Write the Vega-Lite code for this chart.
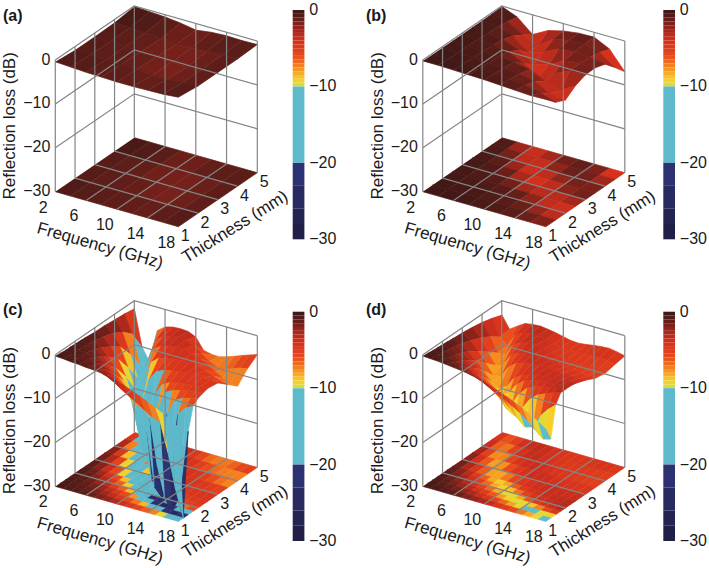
{"padding":0,"background":"white","autosize":{"type":"pad"},"config":{"view":{"stroke":null},"text":{"font":"Liberation Sans","color":"#1a1a1a"}},
"data":{"values":[
{"p":"a","f":2,"t":5,"r":-0.1},{"p":"a","f":4,"t":5,"r":-0.3},{"p":"a","f":6,"t":5,"r":-0.5},{"p":"a","f":8,"t":5,"r":-0.9},{"p":"a","f":10,"t":5,"r":-1.5},{"p":"a","f":12,"t":5,"r":-1},{"p":"a","f":14,"t":5,"r":-0.8},{"p":"a","f":16,"t":5,"r":-0.9},{"p":"a","f":18,"t":5,"r":-0.8},
{"p":"a","f":2,"t":4,"r":-0.7},{"p":"a","f":4,"t":4,"r":-0.9},{"p":"a","f":6,"t":4,"r":-1},{"p":"a","f":8,"t":4,"r":-1.4},{"p":"a","f":10,"t":4,"r":-1.7},{"p":"a","f":12,"t":4,"r":-1.5},{"p":"a","f":14,"t":4,"r":-1.3},{"p":"a","f":16,"t":4,"r":-1.1},{"p":"a","f":18,"t":4,"r":-1},
{"p":"a","f":2,"t":3,"r":-0.8},{"p":"a","f":4,"t":3,"r":-1},{"p":"a","f":6,"t":3,"r":-1.1},{"p":"a","f":8,"t":3,"r":-1.2},{"p":"a","f":10,"t":3,"r":-1.5},{"p":"a","f":12,"t":3,"r":-1.7},{"p":"a","f":14,"t":3,"r":-1.8},{"p":"a","f":16,"t":3,"r":-1.2},{"p":"a","f":18,"t":3,"r":-1},
{"p":"a","f":2,"t":2,"r":-0.8},{"p":"a","f":4,"t":2,"r":-0.9},{"p":"a","f":6,"t":2,"r":-1},{"p":"a","f":8,"t":2,"r":-1.1},{"p":"a","f":10,"t":2,"r":-1.2},{"p":"a","f":12,"t":2,"r":-1.6},{"p":"a","f":14,"t":2,"r":-1.4},{"p":"a","f":16,"t":2,"r":-1.2},{"p":"a","f":18,"t":2,"r":-1},
{"p":"a","f":2,"t":1,"r":-0.4},{"p":"a","f":4,"t":1,"r":-0.6},{"p":"a","f":6,"t":1,"r":-0.8},{"p":"a","f":8,"t":1,"r":-0.9},{"p":"a","f":10,"t":1,"r":-1},{"p":"a","f":12,"t":1,"r":-1},{"p":"a","f":14,"t":1,"r":-0.9},{"p":"a","f":16,"t":1,"r":-0.8},{"p":"a","f":18,"t":1,"r":-0.5},
{"p":"b","f":2,"t":5,"r":-0.1},{"p":"b","f":4,"t":5,"r":-1.5},{"p":"b","f":6,"t":5,"r":-4.5},{"p":"b","f":8,"t":5,"r":-2.6},{"p":"b","f":10,"t":5,"r":-1.7},{"p":"b","f":12,"t":5,"r":-1.2},{"p":"b","f":14,"t":5,"r":-1.1},{"p":"b","f":16,"t":5,"r":-2.8},{"p":"b","f":18,"t":5,"r":-7},
{"p":"b","f":2,"t":4.5,"r":-0.2},{"p":"b","f":4,"t":4.5,"r":-1},{"p":"b","f":6,"t":4.5,"r":-3},{"p":"b","f":8,"t":4.5,"r":-4.5},{"p":"b","f":10,"t":4.5,"r":-2},{"p":"b","f":12,"t":4.5,"r":-1.3},{"p":"b","f":14,"t":4.5,"r":-1.2},{"p":"b","f":16,"t":4.5,"r":-2},{"p":"b","f":18,"t":4.5,"r":-4.5},
{"p":"b","f":2,"t":4,"r":-0.3},{"p":"b","f":4,"t":4,"r":-0.7},{"p":"b","f":6,"t":4,"r":-1.7},{"p":"b","f":8,"t":4,"r":-4.5},{"p":"b","f":10,"t":4,"r":-3.4},{"p":"b","f":12,"t":4,"r":-1.7},{"p":"b","f":14,"t":4,"r":-1.4},{"p":"b","f":16,"t":4,"r":-1.6},{"p":"b","f":18,"t":4,"r":-2.2},
{"p":"b","f":2,"t":3.5,"r":-0.3},{"p":"b","f":4,"t":3.5,"r":-0.6},{"p":"b","f":6,"t":3.5,"r":-1},{"p":"b","f":8,"t":3.5,"r":-2.4},{"p":"b","f":10,"t":3.5,"r":-4.6},{"p":"b","f":12,"t":3.5,"r":-3.8},{"p":"b","f":14,"t":3.5,"r":-1.8},{"p":"b","f":16,"t":3.5,"r":-1.5},{"p":"b","f":18,"t":3.5,"r":-1.5},
{"p":"b","f":2,"t":3,"r":-0.3},{"p":"b","f":4,"t":3,"r":-0.5},{"p":"b","f":6,"t":3,"r":-0.8},{"p":"b","f":8,"t":3,"r":-1.3},{"p":"b","f":10,"t":3,"r":-3},{"p":"b","f":12,"t":3,"r":-4.8},{"p":"b","f":14,"t":3,"r":-3.2},{"p":"b","f":16,"t":3,"r":-1.7},{"p":"b","f":18,"t":3,"r":-1.6},
{"p":"b","f":2,"t":2.5,"r":-0.3},{"p":"b","f":4,"t":2.5,"r":-0.5},{"p":"b","f":6,"t":2.5,"r":-0.6},{"p":"b","f":8,"t":2.5,"r":-0.8},{"p":"b","f":10,"t":2.5,"r":-1.1},{"p":"b","f":12,"t":2.5,"r":-1.8},{"p":"b","f":14,"t":2.5,"r":-3.4},{"p":"b","f":16,"t":2.5,"r":-4.6},{"p":"b","f":18,"t":2.5,"r":-2.5},
{"p":"b","f":2,"t":2,"r":-0.3},{"p":"b","f":4,"t":2,"r":-0.4},{"p":"b","f":6,"t":2,"r":-0.5},{"p":"b","f":8,"t":2,"r":-0.7},{"p":"b","f":10,"t":2,"r":-0.9},{"p":"b","f":12,"t":2,"r":-1.2},{"p":"b","f":14,"t":2,"r":-2},{"p":"b","f":16,"t":2,"r":-3.8},{"p":"b","f":18,"t":2,"r":-4.2},
{"p":"b","f":2,"t":1.5,"r":-0.3},{"p":"b","f":4,"t":1.5,"r":-0.3},{"p":"b","f":6,"t":1.5,"r":-0.4},{"p":"b","f":8,"t":1.5,"r":-0.5},{"p":"b","f":10,"t":1.5,"r":-0.7},{"p":"b","f":12,"t":1.5,"r":-0.9},{"p":"b","f":14,"t":1.5,"r":-1.3},{"p":"b","f":16,"t":1.5,"r":-2},{"p":"b","f":18,"t":1.5,"r":-3.2},
{"p":"b","f":2,"t":1,"r":-0.2},{"p":"b","f":4,"t":1,"r":-0.2},{"p":"b","f":6,"t":1,"r":-0.3},{"p":"b","f":8,"t":1,"r":-0.4},{"p":"b","f":10,"t":1,"r":-0.5},{"p":"b","f":12,"t":1,"r":-0.7},{"p":"b","f":14,"t":1,"r":-0.9},{"p":"b","f":16,"t":1,"r":-1.1},{"p":"b","f":18,"t":1,"r":-1},
{"p":"c","f":2,"t":5,"r":-1.75},{"p":"c","f":3,"t":5,"r":-10},{"p":"c","f":4,"t":5,"r":-13},{"p":"c","f":5,"t":5,"r":-5.3},{"p":"c","f":6,"t":5,"r":-4},{"p":"c","f":7,"t":5,"r":-3.5},{"p":"c","f":8,"t":5,"r":-3.4},{"p":"c","f":9,"t":5,"r":-3.5},{"p":"c","f":10,"t":5,"r":-4.3},{"p":"c","f":11,"t":5,"r":-6.8},{"p":"c","f":12,"t":5,"r":-7.2},{"p":"c","f":13,"t":5,"r":-7.3},{"p":"c","f":14,"t":5,"r":-6.8},{"p":"c","f":15,"t":5,"r":-6.2},{"p":"c","f":16,"t":5,"r":-5.5},{"p":"c","f":17,"t":5,"r":-4.9},{"p":"c","f":18,"t":5,"r":-4.3},
{"p":"c","f":2,"t":4.5,"r":-1.4},{"p":"c","f":3,"t":4.5,"r":-5.5},{"p":"c","f":4,"t":4.5,"r":-12},{"p":"c","f":5,"t":4.5,"r":-12},{"p":"c","f":6,"t":4.5,"r":-5.5},{"p":"c","f":7,"t":4.5,"r":-4.2},{"p":"c","f":8,"t":4.5,"r":-3.6},{"p":"c","f":9,"t":4.5,"r":-3.2},{"p":"c","f":10,"t":4.5,"r":-3.4},{"p":"c","f":11,"t":4.5,"r":-4.2},{"p":"c","f":12,"t":4.5,"r":-5.5},{"p":"c","f":13,"t":4.5,"r":-6.8},{"p":"c","f":14,"t":4.5,"r":-7.6},{"p":"c","f":15,"t":4.5,"r":-7.6},{"p":"c","f":16,"t":4.5,"r":-7},{"p":"c","f":17,"t":4.5,"r":-6.3},{"p":"c","f":18,"t":4.5,"r":-6},
{"p":"c","f":2,"t":4,"r":-1.2},{"p":"c","f":3,"t":4,"r":-3.5},{"p":"c","f":4,"t":4,"r":-8},{"p":"c","f":5,"t":4,"r":-13},{"p":"c","f":6,"t":4,"r":-10},{"p":"c","f":7,"t":4,"r":-5.5},{"p":"c","f":8,"t":4,"r":-4.3},{"p":"c","f":9,"t":4,"r":-3.8},{"p":"c","f":10,"t":4,"r":-3.5},{"p":"c","f":11,"t":4,"r":-3.5},{"p":"c","f":12,"t":4,"r":-4},{"p":"c","f":13,"t":4,"r":-4.6},{"p":"c","f":14,"t":4,"r":-5.4},{"p":"c","f":15,"t":4,"r":-6.5},{"p":"c","f":16,"t":4,"r":-7.5},{"p":"c","f":17,"t":4,"r":-8.3},{"p":"c","f":18,"t":4,"r":-8.4},
{"p":"c","f":2,"t":3.5,"r":-1},{"p":"c","f":3,"t":3.5,"r":-2.3},{"p":"c","f":4,"t":3.5,"r":-4.8},{"p":"c","f":5,"t":3.5,"r":-9},{"p":"c","f":6,"t":3.5,"r":-13.5},{"p":"c","f":7,"t":3.5,"r":-12},{"p":"c","f":8,"t":3.5,"r":-6.5},{"p":"c","f":9,"t":3.5,"r":-5},{"p":"c","f":10,"t":3.5,"r":-4.5},{"p":"c","f":11,"t":3.5,"r":-4.2},{"p":"c","f":12,"t":3.5,"r":-4},{"p":"c","f":13,"t":3.5,"r":-4},{"p":"c","f":14,"t":3.5,"r":-4.3},{"p":"c","f":15,"t":3.5,"r":-4.8},{"p":"c","f":16,"t":3.5,"r":-5.5},{"p":"c","f":17,"t":3.5,"r":-6.2},{"p":"c","f":18,"t":3.5,"r":-6.5},
{"p":"c","f":2,"t":3,"r":-0.9},{"p":"c","f":3,"t":3,"r":-1.6},{"p":"c","f":4,"t":3,"r":-3.3},{"p":"c","f":5,"t":3,"r":-5.6},{"p":"c","f":6,"t":3,"r":-9},{"p":"c","f":7,"t":3,"r":-14},{"p":"c","f":8,"t":3,"r":-15},{"p":"c","f":9,"t":3,"r":-8.5},{"p":"c","f":10,"t":3,"r":-6},{"p":"c","f":11,"t":3,"r":-5.2},{"p":"c","f":12,"t":3,"r":-4.8},{"p":"c","f":13,"t":3,"r":-4.5},{"p":"c","f":14,"t":3,"r":-4.3},{"p":"c","f":15,"t":3,"r":-4.3},{"p":"c","f":16,"t":3,"r":-4.4},{"p":"c","f":17,"t":3,"r":-4.5},{"p":"c","f":18,"t":3,"r":-4.6},
{"p":"c","f":2,"t":2.5,"r":-0.7},{"p":"c","f":3,"t":2.5,"r":-1.1},{"p":"c","f":4,"t":2.5,"r":-2},{"p":"c","f":5,"t":2.5,"r":-3.6},{"p":"c","f":6,"t":2.5,"r":-5.6},{"p":"c","f":7,"t":2.5,"r":-8},{"p":"c","f":8,"t":2.5,"r":-11.5},{"p":"c","f":9,"t":2.5,"r":-19},{"p":"c","f":10,"t":2.5,"r":-20},{"p":"c","f":11,"t":2.5,"r":-9.5},{"p":"c","f":12,"t":2.5,"r":-6.5},{"p":"c","f":13,"t":2.5,"r":-5.5},{"p":"c","f":14,"t":2.5,"r":-5},{"p":"c","f":15,"t":2.5,"r":-4.8},{"p":"c","f":16,"t":2.5,"r":-4.6},{"p":"c","f":17,"t":2.5,"r":-4.4},{"p":"c","f":18,"t":2.5,"r":-4.3},
{"p":"c","f":2,"t":2.25,"r":-0.6},{"p":"c","f":3,"t":2.25,"r":-1},{"p":"c","f":4,"t":2.25,"r":-1.6},{"p":"c","f":5,"t":2.25,"r":-2.8},{"p":"c","f":6,"t":2.25,"r":-4.4},{"p":"c","f":7,"t":2.25,"r":-6.3},{"p":"c","f":8,"t":2.25,"r":-8.5},{"p":"c","f":9,"t":2.25,"r":-12},{"p":"c","f":10,"t":2.25,"r":-21},{"p":"c","f":11,"t":2.25,"r":-23},{"p":"c","f":12,"t":2.25,"r":-12},{"p":"c","f":13,"t":2.25,"r":-7},{"p":"c","f":14,"t":2.25,"r":-6},{"p":"c","f":15,"t":2.25,"r":-5.5},{"p":"c","f":16,"t":2.25,"r":-5},{"p":"c","f":17,"t":2.25,"r":-4.8},{"p":"c","f":18,"t":2.25,"r":-4.6},
{"p":"c","f":2,"t":2,"r":-0.6},{"p":"c","f":3,"t":2,"r":-0.9},{"p":"c","f":4,"t":2,"r":-1.2},{"p":"c","f":5,"t":2,"r":-2},{"p":"c","f":6,"t":2,"r":-3.3},{"p":"c","f":7,"t":2,"r":-4.8},{"p":"c","f":8,"t":2,"r":-6.5},{"p":"c","f":9,"t":2,"r":-8.5},{"p":"c","f":10,"t":2,"r":-11.5},{"p":"c","f":11,"t":2,"r":-18},{"p":"c","f":12,"t":2,"r":-27},{"p":"c","f":13,"t":2,"r":-25},{"p":"c","f":14,"t":2,"r":-10.5},{"p":"c","f":15,"t":2,"r":-7},{"p":"c","f":16,"t":2,"r":-6},{"p":"c","f":17,"t":2,"r":-5.5},{"p":"c","f":18,"t":2,"r":-5},
{"p":"c","f":2,"t":1.75,"r":-0.5},{"p":"c","f":3,"t":1.75,"r":-0.8},{"p":"c","f":4,"t":1.75,"r":-1},{"p":"c","f":5,"t":1.75,"r":-1.5},{"p":"c","f":6,"t":1.75,"r":-2.3},{"p":"c","f":7,"t":1.75,"r":-3.4},{"p":"c","f":8,"t":1.75,"r":-4.8},{"p":"c","f":9,"t":1.75,"r":-6.3},{"p":"c","f":10,"t":1.75,"r":-8},{"p":"c","f":11,"t":1.75,"r":-10},{"p":"c","f":12,"t":1.75,"r":-15},{"p":"c","f":13,"t":1.75,"r":-27},{"p":"c","f":14,"t":1.75,"r":-29},{"p":"c","f":15,"t":1.75,"r":-24},{"p":"c","f":16,"t":1.75,"r":-9},{"p":"c","f":17,"t":1.75,"r":-7},{"p":"c","f":18,"t":1.75,"r":-6},
{"p":"c","f":2,"t":1.5,"r":-0.5},{"p":"c","f":3,"t":1.5,"r":-0.8},{"p":"c","f":4,"t":1.5,"r":-0.9},{"p":"c","f":5,"t":1.5,"r":-1.1},{"p":"c","f":6,"t":1.5,"r":-1.6},{"p":"c","f":7,"t":1.5,"r":-2.3},{"p":"c","f":8,"t":1.5,"r":-3.3},{"p":"c","f":9,"t":1.5,"r":-4.4},{"p":"c","f":10,"t":1.5,"r":-5.6},{"p":"c","f":11,"t":1.5,"r":-7},{"p":"c","f":12,"t":1.5,"r":-8.5},{"p":"c","f":13,"t":1.5,"r":-10.5},{"p":"c","f":14,"t":1.5,"r":-21},{"p":"c","f":15,"t":1.5,"r":-28},{"p":"c","f":16,"t":1.5,"r":-30},{"p":"c","f":17,"t":1.5,"r":-26},{"p":"c","f":18,"t":1.5,"r":-11},
{"p":"c","f":2,"t":1.25,"r":-0.4},{"p":"c","f":3,"t":1.25,"r":-0.6},{"p":"c","f":4,"t":1.25,"r":-0.8},{"p":"c","f":5,"t":1.25,"r":-1},{"p":"c","f":6,"t":1.25,"r":-1.4},{"p":"c","f":7,"t":1.25,"r":-1.9},{"p":"c","f":8,"t":1.25,"r":-2.6},{"p":"c","f":9,"t":1.25,"r":-3.5},{"p":"c","f":10,"t":1.25,"r":-4.7},{"p":"c","f":11,"t":1.25,"r":-5.8},{"p":"c","f":12,"t":1.25,"r":-6.8},{"p":"c","f":13,"t":1.25,"r":-8},{"p":"c","f":14,"t":1.25,"r":-9},{"p":"c","f":15,"t":1.25,"r":-9.6},{"p":"c","f":16,"t":1.25,"r":-16},{"p":"c","f":17,"t":1.25,"r":-24},{"p":"c","f":18,"t":1.25,"r":-30},
{"p":"c","f":2,"t":1,"r":-0.3},{"p":"c","f":3,"t":1,"r":-0.4},{"p":"c","f":4,"t":1,"r":-0.6},{"p":"c","f":5,"t":1,"r":-0.7},{"p":"c","f":6,"t":1,"r":-0.9},{"p":"c","f":7,"t":1,"r":-1},{"p":"c","f":8,"t":1,"r":-1.2},{"p":"c","f":9,"t":1,"r":-1.6},{"p":"c","f":10,"t":1,"r":-2},{"p":"c","f":11,"t":1,"r":-2.6},{"p":"c","f":12,"t":1,"r":-3.3},{"p":"c","f":13,"t":1,"r":-4},{"p":"c","f":14,"t":1,"r":-4.8},{"p":"c","f":15,"t":1,"r":-5.6},{"p":"c","f":16,"t":1,"r":-6.5},{"p":"c","f":17,"t":1,"r":-7.5},{"p":"c","f":18,"t":1,"r":-8.5},
{"p":"d","f":2,"t":5,"r":-3.2},{"p":"d","f":3,"t":5,"r":-6},{"p":"d","f":4,"t":5,"r":-4.8},{"p":"d","f":5,"t":5,"r":-3.7},{"p":"d","f":6,"t":5,"r":-3.4},{"p":"d","f":7,"t":5,"r":-3.3},{"p":"d","f":8,"t":5,"r":-3.5},{"p":"d","f":9,"t":5,"r":-3.8},{"p":"d","f":10,"t":5,"r":-4.2},{"p":"d","f":11,"t":5,"r":-4.6},{"p":"d","f":12,"t":5,"r":-4.7},{"p":"d","f":13,"t":5,"r":-4.5},{"p":"d","f":14,"t":5,"r":-4.2},{"p":"d","f":15,"t":5,"r":-4},{"p":"d","f":16,"t":5,"r":-3.9},{"p":"d","f":17,"t":5,"r":-4.2},{"p":"d","f":18,"t":5,"r":-4.6},
{"p":"d","f":2,"t":4.5,"r":-2.4},{"p":"d","f":3,"t":4.5,"r":-6.2},{"p":"d","f":4,"t":4.5,"r":-7.6},{"p":"d","f":5,"t":4.5,"r":-4.8},{"p":"d","f":6,"t":4.5,"r":-3.8},{"p":"d","f":7,"t":4.5,"r":-3.4},{"p":"d","f":8,"t":4.5,"r":-3.4},{"p":"d","f":9,"t":4.5,"r":-3.8},{"p":"d","f":10,"t":4.5,"r":-4.3},{"p":"d","f":11,"t":4.5,"r":-4.7},{"p":"d","f":12,"t":4.5,"r":-4.8},{"p":"d","f":13,"t":4.5,"r":-4.7},{"p":"d","f":14,"t":4.5,"r":-4.6},{"p":"d","f":15,"t":4.5,"r":-4.5},{"p":"d","f":16,"t":4.5,"r":-4.4},{"p":"d","f":17,"t":4.5,"r":-4.6},{"p":"d","f":18,"t":4.5,"r":-5},
{"p":"d","f":2,"t":4,"r":-1.8},{"p":"d","f":3,"t":4,"r":-4.6},{"p":"d","f":4,"t":4,"r":-7.8},{"p":"d","f":5,"t":4,"r":-7.8},{"p":"d","f":6,"t":4,"r":-5},{"p":"d","f":7,"t":4,"r":-4},{"p":"d","f":8,"t":4,"r":-3.5},{"p":"d","f":9,"t":4,"r":-3.5},{"p":"d","f":10,"t":4,"r":-3.8},{"p":"d","f":11,"t":4,"r":-4.3},{"p":"d","f":12,"t":4,"r":-4.6},{"p":"d","f":13,"t":4,"r":-4.9},{"p":"d","f":14,"t":4,"r":-5},{"p":"d","f":15,"t":4,"r":-5.1},{"p":"d","f":16,"t":4,"r":-5.2},{"p":"d","f":17,"t":4,"r":-5.4},{"p":"d","f":18,"t":4,"r":-5.5},
{"p":"d","f":2,"t":3.5,"r":-1.4},{"p":"d","f":3,"t":3.5,"r":-3.4},{"p":"d","f":4,"t":3.5,"r":-6},{"p":"d","f":5,"t":3.5,"r":-8.6},{"p":"d","f":6,"t":3.5,"r":-8},{"p":"d","f":7,"t":3.5,"r":-5.4},{"p":"d","f":8,"t":3.5,"r":-4.3},{"p":"d","f":9,"t":3.5,"r":-3.8},{"p":"d","f":10,"t":3.5,"r":-3.6},{"p":"d","f":11,"t":3.5,"r":-3.7},{"p":"d","f":12,"t":3.5,"r":-3.9},{"p":"d","f":13,"t":3.5,"r":-4.2},{"p":"d","f":14,"t":3.5,"r":-4.5},{"p":"d","f":15,"t":3.5,"r":-4.7},{"p":"d","f":16,"t":3.5,"r":-5},{"p":"d","f":17,"t":3.5,"r":-5.1},{"p":"d","f":18,"t":3.5,"r":-5.1},
{"p":"d","f":2,"t":3,"r":-1.1},{"p":"d","f":3,"t":3,"r":-2.4},{"p":"d","f":4,"t":3,"r":-4.3},{"p":"d","f":5,"t":3,"r":-6.5},{"p":"d","f":6,"t":3,"r":-8.8},{"p":"d","f":7,"t":3,"r":-8.6},{"p":"d","f":8,"t":3,"r":-6},{"p":"d","f":9,"t":3,"r":-4.6},{"p":"d","f":10,"t":3,"r":-4},{"p":"d","f":11,"t":3,"r":-3.7},{"p":"d","f":12,"t":3,"r":-3.6},{"p":"d","f":13,"t":3,"r":-3.6},{"p":"d","f":14,"t":3,"r":-3.7},{"p":"d","f":15,"t":3,"r":-3.8},{"p":"d","f":16,"t":3,"r":-4},{"p":"d","f":17,"t":3,"r":-4.2},{"p":"d","f":18,"t":3,"r":-4},
{"p":"d","f":2,"t":2.5,"r":-0.9},{"p":"d","f":3,"t":2.5,"r":-1.7},{"p":"d","f":4,"t":2.5,"r":-2.9},{"p":"d","f":5,"t":2.5,"r":-4.4},{"p":"d","f":6,"t":2.5,"r":-6.2},{"p":"d","f":7,"t":2.5,"r":-8.2},{"p":"d","f":8,"t":2.5,"r":-9.4},{"p":"d","f":9,"t":2.5,"r":-8.4},{"p":"d","f":10,"t":2.5,"r":-6},{"p":"d","f":11,"t":2.5,"r":-4.8},{"p":"d","f":12,"t":2.5,"r":-4.2},{"p":"d","f":13,"t":2.5,"r":-3.8},{"p":"d","f":14,"t":2.5,"r":-3.6},{"p":"d","f":15,"t":2.5,"r":-3.5},{"p":"d","f":16,"t":2.5,"r":-3.4},{"p":"d","f":17,"t":2.5,"r":-3.3},{"p":"d","f":18,"t":2.5,"r":-3.2},
{"p":"d","f":2,"t":2.25,"r":-0.8},{"p":"d","f":3,"t":2.25,"r":-1.4},{"p":"d","f":4,"t":2.25,"r":-2.3},{"p":"d","f":5,"t":2.25,"r":-3.6},{"p":"d","f":6,"t":2.25,"r":-5},{"p":"d","f":7,"t":2.25,"r":-6.6},{"p":"d","f":8,"t":2.25,"r":-8.3},{"p":"d","f":9,"t":2.25,"r":-9.5},{"p":"d","f":10,"t":2.25,"r":-8.5},{"p":"d","f":11,"t":2.25,"r":-6.2},{"p":"d","f":12,"t":2.25,"r":-4.8},{"p":"d","f":13,"t":2.25,"r":-4.2},{"p":"d","f":14,"t":2.25,"r":-3.9},{"p":"d","f":15,"t":2.25,"r":-3.6},{"p":"d","f":16,"t":2.25,"r":-3.4},{"p":"d","f":17,"t":2.25,"r":-3.2},{"p":"d","f":18,"t":2.25,"r":-3},
{"p":"d","f":2,"t":2,"r":-0.7},{"p":"d","f":3,"t":2,"r":-1.2},{"p":"d","f":4,"t":2,"r":-1.9},{"p":"d","f":5,"t":2,"r":-2.9},{"p":"d","f":6,"t":2,"r":-4.1},{"p":"d","f":7,"t":2,"r":-5.4},{"p":"d","f":8,"t":2,"r":-6.8},{"p":"d","f":9,"t":2,"r":-8.4},{"p":"d","f":10,"t":2,"r":-10},{"p":"d","f":11,"t":2,"r":-9.8},{"p":"d","f":12,"t":2,"r":-7},{"p":"d","f":13,"t":2,"r":-5.2},{"p":"d","f":14,"t":2,"r":-4.4},{"p":"d","f":15,"t":2,"r":-3.9},{"p":"d","f":16,"t":2,"r":-3.6},{"p":"d","f":17,"t":2,"r":-3.2},{"p":"d","f":18,"t":2,"r":-3},
{"p":"d","f":2,"t":1.75,"r":-0.6},{"p":"d","f":3,"t":1.75,"r":-1},{"p":"d","f":4,"t":1.75,"r":-1.5},{"p":"d","f":5,"t":1.75,"r":-2.2},{"p":"d","f":6,"t":1.75,"r":-3.2},{"p":"d","f":7,"t":1.75,"r":-4.2},{"p":"d","f":8,"t":1.75,"r":-5.3},{"p":"d","f":9,"t":1.75,"r":-6.6},{"p":"d","f":10,"t":1.75,"r":-8},{"p":"d","f":11,"t":1.75,"r":-10.2},{"p":"d","f":12,"t":1.75,"r":-11.2},{"p":"d","f":13,"t":1.75,"r":-9},{"p":"d","f":14,"t":1.75,"r":-6.5},{"p":"d","f":15,"t":1.75,"r":-5},{"p":"d","f":16,"t":1.75,"r":-4.2},{"p":"d","f":17,"t":1.75,"r":-3.5},{"p":"d","f":18,"t":1.75,"r":-3},
{"p":"d","f":2,"t":1.5,"r":-0.5},{"p":"d","f":3,"t":1.5,"r":-0.8},{"p":"d","f":4,"t":1.5,"r":-1.2},{"p":"d","f":5,"t":1.5,"r":-1.6},{"p":"d","f":6,"t":1.5,"r":-2.2},{"p":"d","f":7,"t":1.5,"r":-3},{"p":"d","f":8,"t":1.5,"r":-3.9},{"p":"d","f":9,"t":1.5,"r":-5},{"p":"d","f":10,"t":1.5,"r":-6},{"p":"d","f":11,"t":1.5,"r":-7.2},{"p":"d","f":12,"t":1.5,"r":-8.6},{"p":"d","f":13,"t":1.5,"r":-10.5},{"p":"d","f":14,"t":1.5,"r":-12},{"p":"d","f":15,"t":1.5,"r":-11.5},{"p":"d","f":16,"t":1.5,"r":-8.5},{"p":"d","f":17,"t":1.5,"r":-6.5},{"p":"d","f":18,"t":1.5,"r":-5},
{"p":"d","f":2,"t":1.25,"r":-0.4},{"p":"d","f":3,"t":1.25,"r":-0.6},{"p":"d","f":4,"t":1.25,"r":-0.8},{"p":"d","f":5,"t":1.25,"r":-1.1},{"p":"d","f":6,"t":1.25,"r":-1.5},{"p":"d","f":7,"t":1.25,"r":-2},{"p":"d","f":8,"t":1.25,"r":-2.6},{"p":"d","f":9,"t":1.25,"r":-3.3},{"p":"d","f":10,"t":1.25,"r":-4.1},{"p":"d","f":11,"t":1.25,"r":-5},{"p":"d","f":12,"t":1.25,"r":-6},{"p":"d","f":13,"t":1.25,"r":-7},{"p":"d","f":14,"t":1.25,"r":-8},{"p":"d","f":15,"t":1.25,"r":-9.2},{"p":"d","f":16,"t":1.25,"r":-11},{"p":"d","f":17,"t":1.25,"r":-12.5},{"p":"d","f":18,"t":1.25,"r":-12},
{"p":"d","f":2,"t":1,"r":-0.3},{"p":"d","f":3,"t":1,"r":-0.4},{"p":"d","f":4,"t":1,"r":-0.5},{"p":"d","f":5,"t":1,"r":-0.7},{"p":"d","f":6,"t":1,"r":-0.9},{"p":"d","f":7,"t":1,"r":-1.1},{"p":"d","f":8,"t":1,"r":-1.4},{"p":"d","f":9,"t":1,"r":-1.8},{"p":"d","f":10,"t":1,"r":-2.2},{"p":"d","f":11,"t":1,"r":-2.8},{"p":"d","f":12,"t":1,"r":-3.5},{"p":"d","f":13,"t":1,"r":-4.2},{"p":"d","f":14,"t":1,"r":-5},{"p":"d","f":15,"t":1,"r":-5.8},{"p":"d","f":16,"t":1,"r":-6.7},{"p":"d","f":17,"t":1,"r":-7.8},{"p":"d","f":18,"t":1,"r":-9},
{"p":"a","v":0,"w":-0.5},{"p":"a","v":-0.5,"w":-1},{"p":"a","v":-1,"w":-1.5},{"p":"a","v":-1.5,"w":-2},{"p":"a","v":-2,"w":-2.5},{"p":"a","v":-2.5,"w":-3},{"p":"a","v":-3,"w":-3.5},{"p":"a","v":-3.5,"w":-4},{"p":"a","v":-4,"w":-4.5},{"p":"a","v":-4.5,"w":-5},{"p":"a","v":-5,"w":-5.5},{"p":"a","v":-5.5,"w":-6},{"p":"a","v":-6,"w":-6.5},{"p":"a","v":-6.5,"w":-7},{"p":"a","v":-7,"w":-7.5},{"p":"a","v":-7.5,"w":-8},{"p":"a","v":-8,"w":-8.5},{"p":"a","v":-8.5,"w":-9},{"p":"a","v":-9,"w":-9.5},{"p":"a","v":-9.5,"w":-10},{"p":"a","v":-10,"w":-20},{"p":"a","v":-20,"w":-23},{"p":"a","v":-23,"w":-26},{"p":"a","v":-26,"w":-28},{"p":"a","v":-28,"w":-30},{"p":"a","v":-30,"w":-30},
{"p":"b","v":0,"w":-0.5},{"p":"b","v":-0.5,"w":-1},{"p":"b","v":-1,"w":-1.5},{"p":"b","v":-1.5,"w":-2},{"p":"b","v":-2,"w":-2.5},{"p":"b","v":-2.5,"w":-3},{"p":"b","v":-3,"w":-3.5},{"p":"b","v":-3.5,"w":-4},{"p":"b","v":-4,"w":-4.5},{"p":"b","v":-4.5,"w":-5},{"p":"b","v":-5,"w":-5.5},{"p":"b","v":-5.5,"w":-6},{"p":"b","v":-6,"w":-6.5},{"p":"b","v":-6.5,"w":-7},{"p":"b","v":-7,"w":-7.5},{"p":"b","v":-7.5,"w":-8},{"p":"b","v":-8,"w":-8.5},{"p":"b","v":-8.5,"w":-9},{"p":"b","v":-9,"w":-9.5},{"p":"b","v":-9.5,"w":-10},{"p":"b","v":-10,"w":-20},{"p":"b","v":-20,"w":-23},{"p":"b","v":-23,"w":-26},{"p":"b","v":-26,"w":-28},{"p":"b","v":-28,"w":-30},{"p":"b","v":-30,"w":-30},
{"p":"c","v":0,"w":-0.5},{"p":"c","v":-0.5,"w":-1},{"p":"c","v":-1,"w":-1.5},{"p":"c","v":-1.5,"w":-2},{"p":"c","v":-2,"w":-2.5},{"p":"c","v":-2.5,"w":-3},{"p":"c","v":-3,"w":-3.5},{"p":"c","v":-3.5,"w":-4},{"p":"c","v":-4,"w":-4.5},{"p":"c","v":-4.5,"w":-5},{"p":"c","v":-5,"w":-5.5},{"p":"c","v":-5.5,"w":-6},{"p":"c","v":-6,"w":-6.5},{"p":"c","v":-6.5,"w":-7},{"p":"c","v":-7,"w":-7.5},{"p":"c","v":-7.5,"w":-8},{"p":"c","v":-8,"w":-8.5},{"p":"c","v":-8.5,"w":-9},{"p":"c","v":-9,"w":-9.5},{"p":"c","v":-9.5,"w":-10},{"p":"c","v":-10,"w":-20},{"p":"c","v":-20,"w":-23},{"p":"c","v":-23,"w":-26},{"p":"c","v":-26,"w":-28},{"p":"c","v":-28,"w":-30},{"p":"c","v":-30,"w":-30},
{"p":"d","v":0,"w":-0.5},{"p":"d","v":-0.5,"w":-1},{"p":"d","v":-1,"w":-1.5},{"p":"d","v":-1.5,"w":-2},{"p":"d","v":-2,"w":-2.5},{"p":"d","v":-2.5,"w":-3},{"p":"d","v":-3,"w":-3.5},{"p":"d","v":-3.5,"w":-4},{"p":"d","v":-4,"w":-4.5},{"p":"d","v":-4.5,"w":-5},{"p":"d","v":-5,"w":-5.5},{"p":"d","v":-5.5,"w":-6},{"p":"d","v":-6,"w":-6.5},{"p":"d","v":-6.5,"w":-7},{"p":"d","v":-7,"w":-7.5},{"p":"d","v":-7.5,"w":-8},{"p":"d","v":-8,"w":-8.5},{"p":"d","v":-8.5,"w":-9},{"p":"d","v":-9,"w":-9.5},{"p":"d","v":-9.5,"w":-10},{"p":"d","v":-10,"w":-20},{"p":"d","v":-20,"w":-23},{"p":"d","v":-23,"w":-26},{"p":"d","v":-26,"w":-28},{"p":"d","v":-28,"w":-30},{"p":"d","v":-30,"w":-30},
{"k":"g","g":"z0","f":2,"t":1,"z":0},{"k":"g","g":"z0","f":2,"t":5,"z":0},{"k":"g","g":"z0","f":18,"t":5,"z":0},
{"k":"g","g":"z1","f":2,"t":1,"z":-10},{"k":"g","g":"z1","f":2,"t":5,"z":-10},{"k":"g","g":"z1","f":18,"t":5,"z":-10},
{"k":"g","g":"z2","f":2,"t":1,"z":-20},{"k":"g","g":"z2","f":2,"t":5,"z":-20},{"k":"g","g":"z2","f":18,"t":5,"z":-20},
{"k":"g","g":"v1","f":2,"t":1,"z":0},{"k":"g","g":"v1","f":2,"t":1,"z":-30},{"k":"g","g":"v2","f":2,"t":2,"z":0},{"k":"g","g":"v2","f":2,"t":2,"z":-30},{"k":"g","g":"v3","f":2,"t":3,"z":0},{"k":"g","g":"v3","f":2,"t":3,"z":-30},{"k":"g","g":"v4","f":2,"t":4,"z":0},{"k":"g","g":"v4","f":2,"t":4,"z":-30},{"k":"g","g":"v5","f":2,"t":5,"z":0},{"k":"g","g":"v5","f":2,"t":5,"z":-30},
{"k":"g","g":"v6","f":6,"t":5,"z":0},{"k":"g","g":"v6","f":6,"t":5,"z":-30},{"k":"g","g":"v7","f":10,"t":5,"z":0},{"k":"g","g":"v7","f":10,"t":5,"z":-30},{"k":"g","g":"v8","f":14,"t":5,"z":0},{"k":"g","g":"v8","f":14,"t":5,"z":-30},{"k":"g","g":"v9","f":18,"t":5,"z":0},{"k":"g","g":"v9","f":18,"t":5,"z":-30},
{"k":"g","g":"f6","f":6,"t":1,"z":-30},{"k":"g","g":"f6","f":6,"t":5,"z":-30},{"k":"g","g":"f10","f":10,"t":1,"z":-30},{"k":"g","g":"f10","f":10,"t":5,"z":-30},{"k":"g","g":"f14","f":14,"t":1,"z":-30},{"k":"g","g":"f14","f":14,"t":5,"z":-30},
{"k":"g","g":"t2","f":2,"t":2,"z":-30},{"k":"g","g":"t2","f":18,"t":2,"z":-30},{"k":"g","g":"t3","f":2,"t":3,"z":-30},{"k":"g","g":"t3","f":18,"t":3,"z":-30},{"k":"g","g":"t4","f":2,"t":4,"z":-30},{"k":"g","g":"t4","f":18,"t":4,"z":-30},
{"k":"zt","z":0,"l":"0"},{"k":"zt","z":-10,"l":"−10"},{"k":"zt","z":-20,"l":"−20"},{"k":"zt","z":-30,"l":"−30"},
{"k":"ft","f":2,"l":"2"},{"k":"ft","f":6,"l":"6"},{"k":"ft","f":10,"l":"10"},{"k":"ft","f":14,"l":"14"},{"k":"ft","f":18,"l":"18"},
{"k":"tt","t":1,"l":"1"},{"k":"tt","t":2,"l":"2"},{"k":"tt","t":3,"l":"3"},{"k":"tt","t":4,"l":"4"},{"k":"tt","t":5,"l":"5"},
{"k":"fT","f":10,"l":"Frequency (GHz)"},{"k":"tT","t":3,"l":"Thickness (mm)"},{"k":"zT","z":-15,"l":"Reflection loss (dB)"}
]},
"transform":[{"calculate":"isValid(datum.p)?[datum.p]:['a','b','c','d']","as":"p"},{"flatten":["p"]},{"calculate":"(datum.p=='a'||datum.p=='c')?0:1","as":"col"},{"calculate":"(datum.p=='a'||datum.p=='b')?0:1","as":"rw"}],
"facet":{"column":{"field":"col","type":"ordinal","header":null},"row":{"field":"rw","type":"ordinal","header":null}},"spacing":{"column":24.5,"row":21.7},
"spec":{"width":340,"height":273,"layer":[
{"transform":[{"filter":"isValid(datum.r)"},
{"calculate":"(datum.f-2)/(datum.p=='a'||datum.p=='b'?2:1)","as":"i"},
{"calculate":"indexof(datum.p=='a'?[1,2,3,4,5]:datum.p=='b'?[1,1.5,2,2.5,3,3.5,4,4.5,5]:[1,1.25,1.5,1.75,2,2.25,2.5,3,3.5,4,4.5,5],datum.t)","as":"j"},
{"calculate":"[0,1,2,3]","as":"c"},{"flatten":["c"]},
{"calculate":"(datum.i-((datum.c==1||datum.c==2)?1:0))+'_'+(datum.j-(datum.c>=2?1:0))","as":"q"},
{"joinaggregate":[{"op":"mean","field":"r","as":"m"},{"op":"count","as":"n"}],"groupby":["p","q"]},
{"filter":"datum.n==4"},
{"calculate":"54.3+(datum.f-2)/16*123+(datum.t-1)/4*79","as":"sx"},
{"calculate":"191.7+(datum.f-2)/16*35-(datum.t-1)/4*54","as":"sy"}],
"mark":{"type":"line","strokeWidth":0.7,"interpolate":"linear"},"encoding":{"x":{"field":"sx","type":"quantitative","scale":{"domain":[0,340],"nice":false,"zero":false},"axis":null},"y":{"field":"sy","type":"quantitative","scale":{"domain":[273,0],"nice":false,"zero":false},"axis":null},"detail":{"field":"q"},"order":{"field":"c"},
"fill":{"field":"m","type":"quantitative","legend":null,"scale":{"interpolate":"rgb","domain":[-30,-20.01,-20,-10.01,-10,-9,-7.5,-6,-4,-2.5,-1.2,0],"range":["#201d42","#2e3579","#5cb6c9","#5fbccb","#d6df3c","#f6cf2a","#f58a20","#e6481c","#d4301c","#a0261b","#641e19","#371716"]}},
"stroke":{"field":"m","type":"quantitative","legend":null,"scale":{"interpolate":"rgb","domain":[-30,-20.01,-20,-10.01,-10,-9,-7.5,-6,-4,-2.5,-1.2,0],"range":["#201d42","#2e3579","#5cb6c9","#5fbccb","#d6df3c","#f6cf2a","#f58a20","#e6481c","#d4301c","#a0261b","#641e19","#371716"]}}}},
{"transform":[{"filter":"isValid(datum.r)"},
{"calculate":"(datum.f-2)/(datum.p=='a'||datum.p=='b'?2:1)","as":"i"},
{"calculate":"indexof(datum.p=='a'?[1,2,3,4,5]:datum.p=='b'?[1,1.5,2,2.5,3,3.5,4,4.5,5]:[1,1.25,1.5,1.75,2,2.25,2.5,3,3.5,4,4.5,5],datum.t)","as":"j"},
{"calculate":"[0,1,2,3]","as":"c"},{"flatten":["c"]},
{"calculate":"(datum.i-((datum.c==1||datum.c==2)?1:0))+'_'+(datum.j-(datum.c>=2?1:0))","as":"q"},
{"joinaggregate":[{"op":"mean","field":"r","as":"m"},{"op":"count","as":"n"}],"groupby":["p","q"]},
{"filter":"datum.n==4"},
{"calculate":"54.3+(datum.f-2)/16*123+(datum.t-1)/4*79","as":"sx"},
{"calculate":"191.7+(datum.f-2)/16*35-(datum.t-1)/4*54-(datum.r+30)*4.39","as":"sy"}],
"mark":{"type":"line","strokeWidth":0.7,"interpolate":"linear"},"encoding":{"x":{"field":"sx","type":"quantitative","scale":{"domain":[0,340],"nice":false,"zero":false},"axis":null},"y":{"field":"sy","type":"quantitative","scale":{"domain":[273,0],"nice":false,"zero":false},"axis":null},"detail":{"field":"q"},"order":{"field":"c"},
"fill":{"field":"m","type":"quantitative","legend":null,"scale":{"interpolate":"rgb","domain":[-30,-20.01,-20,-10.01,-10,-9,-7.5,-6,-4,-2.5,-1.2,0],"range":["#201d42","#2e3579","#5cb6c9","#5fbccb","#d6df3c","#f6cf2a","#f58a20","#e6481c","#d4301c","#a0261b","#641e19","#371716"]}},
"stroke":{"field":"m","type":"quantitative","legend":null,"scale":{"interpolate":"rgb","domain":[-30,-20.01,-20,-10.01,-10,-9,-7.5,-6,-4,-2.5,-1.2,0],"range":["#201d42","#2e3579","#5cb6c9","#5fbccb","#d6df3c","#f6cf2a","#f58a20","#e6481c","#d4301c","#a0261b","#641e19","#371716"]}}}},
{"transform":[{"filter":"datum.k=='g'"},{"calculate":"54.3+(datum.f-2)/16*123+(datum.t-1)/4*79","as":"sx"},{"calculate":"191.7+(datum.f-2)/16*35-(datum.t-1)/4*54-(datum.z+30)*4.39","as":"sy"}],
"mark":{"type":"line","color":"#858585","strokeWidth":1.2},"encoding":{"x":{"field":"sx","type":"quantitative","scale":{"domain":[0,340],"nice":false,"zero":false},"axis":null},"y":{"field":"sy","type":"quantitative","scale":{"domain":[273,0],"nice":false,"zero":false},"axis":null},"detail":{"field":"g"}}},
{"transform":[{"filter":"datum.k=='zt'"},{"calculate":"191.7-(datum.z+30)*4.39","as":"sy"},{"calculate":"54.3","as":"sx"}],
"mark":{"type":"text","align":"right","baseline":"middle","fontSize":16,"dx":-5,"dy":-0.5},"encoding":{"x":{"field":"sx","type":"quantitative","scale":{"domain":[0,340],"nice":false,"zero":false},"axis":null},"y":{"field":"sy","type":"quantitative","scale":{"domain":[273,0],"nice":false,"zero":false},"axis":null},"text":{"field":"l"}}},
{"transform":[{"filter":"datum.k=='ft'"},{"calculate":"54.3+(datum.f-2)/16*123","as":"sx"},{"calculate":"191.7+(datum.f-2)/16*35","as":"sy"}],
"mark":{"type":"text","align":"center","baseline":"middle","fontSize":16,"dx":-12,"dy":16},"encoding":{"x":{"field":"sx","type":"quantitative","scale":{"domain":[0,340],"nice":false,"zero":false},"axis":null},"y":{"field":"sy","type":"quantitative","scale":{"domain":[273,0],"nice":false,"zero":false},"axis":null},"text":{"field":"l"}}},
{"transform":[{"filter":"datum.k=='tt'"},{"calculate":"177.3+(datum.t-1)/4*79","as":"sx"},{"calculate":"226.7-(datum.t-1)/4*54","as":"sy"}],
"mark":{"type":"text","align":"center","baseline":"middle","fontSize":16,"dx":7,"dy":9.5},"encoding":{"x":{"field":"sx","type":"quantitative","scale":{"domain":[0,340],"nice":false,"zero":false},"axis":null},"y":{"field":"sy","type":"quantitative","scale":{"domain":[273,0],"nice":false,"zero":false},"axis":null},"text":{"field":"l"}}},
{"transform":[{"filter":"datum.k=='fT'"},{"calculate":"54.3+(datum.f-2)/16*123-16.8","as":"sx"},{"calculate":"191.7+(datum.f-2)/16*35+36.8","as":"sy"}],
"mark":{"type":"text","align":"center","baseline":"middle","fontSize":17,"angle":16},"encoding":{"x":{"field":"sx","type":"quantitative","scale":{"domain":[0,340],"nice":false,"zero":false},"axis":null},"y":{"field":"sy","type":"quantitative","scale":{"domain":[273,0],"nice":false,"zero":false},"axis":null},"text":{"field":"l"}}},
{"transform":[{"filter":"datum.k=='tT'"},{"calculate":"177.3+(datum.t-1)/4*79+17.3","as":"sx"},{"calculate":"226.7-(datum.t-1)/4*54+27.3","as":"sy"}],
"mark":{"type":"text","align":"center","baseline":"middle","fontSize":17,"angle":328},"encoding":{"x":{"field":"sx","type":"quantitative","scale":{"domain":[0,340],"nice":false,"zero":false},"axis":null},"y":{"field":"sy","type":"quantitative","scale":{"domain":[273,0],"nice":false,"zero":false},"axis":null},"text":{"field":"l"}}},
{"transform":[{"filter":"datum.k=='zT'"},{"calculate":"54.3-45.3","as":"sx"},{"calculate":"191.7-(datum.z+30)*4.39","as":"sy"}],
"mark":{"type":"text","align":"center","baseline":"middle","fontSize":17,"angle":270},"encoding":{"x":{"field":"sx","type":"quantitative","scale":{"domain":[0,340],"nice":false,"zero":false},"axis":null},"y":{"field":"sy","type":"quantitative","scale":{"domain":[273,0],"nice":false,"zero":false},"axis":null},"text":{"field":"l"}}},
{"transform":[{"filter":"isValid(datum.v)"},
{"calculate":"(datum.p=='a'||datum.p=='c')?291.7:294.8","as":"bx"},{"calculate":"datum.bx+11.7","as":"bx2"},
{"calculate":"((datum.p=='a'||datum.p=='b')?10:17)+(-datum.v)/30*229.3","as":"by"},
{"calculate":"((datum.p=='a'||datum.p=='b')?10:17)+(-datum.w)/30*229.3","as":"by2"},
{"calculate":"(datum.v+datum.w)/2","as":"m"}],
"mark":{"type":"rect"},"encoding":{"x":{"field":"bx","type":"quantitative","scale":{"domain":[0,340],"nice":false,"zero":false},"axis":null},"x2":{"field":"bx2"},"y":{"field":"by","type":"quantitative","scale":{"domain":[273,0],"nice":false,"zero":false},"axis":null},"y2":{"field":"by2"},
"fill":{"field":"m","type":"quantitative","legend":null,"scale":{"interpolate":"rgb","domain":[-30,-20.01,-20,-10.01,-10,-9,-7.5,-6,-4,-2.5,-1.2,0],"range":["#201d42","#2e3579","#5cb6c9","#5fbccb","#d6df3c","#f6cf2a","#f58a20","#e6481c","#d4301c","#a0261b","#641e19","#371716"]}}}},
{"transform":[{"filter":"isValid(datum.v)&&indexof([0,-10,-20,-30],datum.v)>=0"},
{"calculate":"((datum.p=='a'||datum.p=='c')?291.7:294.8)+16.5","as":"bx"},
{"calculate":"((datum.p=='a'||datum.p=='b')?10:17)+(-datum.v)/30*229.3","as":"by"},
{"calculate":"datum.v==0?'0':'−'+abs(datum.v)","as":"l"}],
"mark":{"type":"text","align":"left","baseline":"middle","fontSize":16},"encoding":{"x":{"field":"bx","type":"quantitative","scale":{"domain":[0,340],"nice":false,"zero":false},"axis":null},"y":{"field":"by","type":"quantitative","scale":{"domain":[273,0],"nice":false,"zero":false},"axis":null},"text":{"field":"l"}}},
{"transform":[{"filter":"isValid(datum.r)&&datum.f==2&&datum.t==5"},
{"calculate":"(datum.p=='a'||datum.p=='c')?2:-2.5","as":"lx"},{"calculate":"15.5","as":"ly"},
{"calculate":"'('+datum.p+')'","as":"lab"}],
"mark":{"type":"text","align":"left","baseline":"middle","fontSize":16,"fontWeight":"bold"},"encoding":{"x":{"field":"lx","type":"quantitative","scale":{"domain":[0,340],"nice":false,"zero":false},"axis":null},"y":{"field":"ly","type":"quantitative","scale":{"domain":[273,0],"nice":false,"zero":false},"axis":null},"text":{"field":"lab"}}}
]}}
